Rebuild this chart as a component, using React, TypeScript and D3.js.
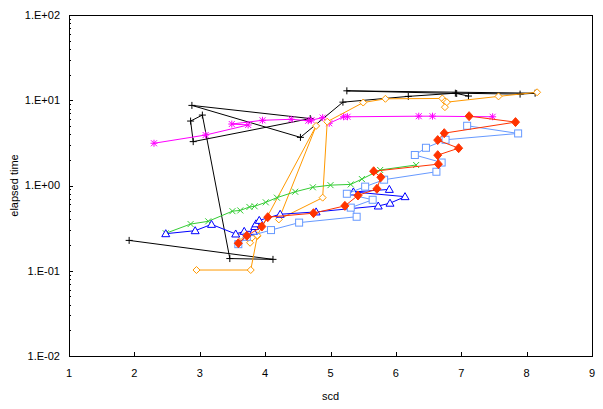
import React from "react";
import * as d3 from "d3";

const W = 603, H = 409;
const M = { left: 69, right: 592, top: 15, bottom: 356 };

const xTicks = [1, 2, 3, 4, 5, 6, 7, 8, 9];
const yTicks = [0.01, 0.1, 1, 10, 100];
const yTickLabels = ["1.E-02", "1.E-01", "1.E+00", "1.E+01", "1.E+02"];

const blackSeries: [number, number][] = [
  [1.92, 0.227], [4.12, 0.136], [3.46, 0.139], [3.04, 6.7], [2.86, 5.7], [2.9, 3.27],
  [4.69, 6.1], [2.88, 8.7], [4.54, 3.67], [5.19, 9.5], [6.19, 11.1], [6.91, 12.1],
  [7.9, 11.8], [8.13, 12.1], [5.25, 12.9], [6.93, 12.0], [7.11, 11.2],
];
const magentaSeries: [number, number][] = [
  [2.3, 3.13], [3.09, 3.91], [3.74, 5.13], [3.49, 5.26], [3.96, 5.82], [4.4, 5.98],
  [4.66, 5.75], [4.71, 5.85], [4.88, 6.25], [4.98, 5.37], [5.2, 6.4], [5.26, 6.4],
  [6.35, 6.5], [6.56, 6.5], [7.48, 6.4],
];
const orangeSeries: [number, number][] = [
  [2.95, 0.102], [3.78, 0.102], [3.88, 0.255], [3.77, 0.213], [3.63, 0.255], [3.88, 0.26],
  [4.78, 5.0], [4.21, 0.4], [4.88, 0.72], [4.95, 5.6], [5.5, 9.4], [5.84, 10.4],
  [6.71, 10.5], [6.75, 9.7], [6.75, 8.3], [6.78, 9.5], [7.57, 11.1], [8.16, 12.4],
];
const redSeries: [number, number][] = [
  [3.59, 0.21], [3.72, 0.257], [3.95, 0.33], [4.04, 0.425], [4.74, 0.473], [5.22, 0.577],
  [5.42, 0.764], [5.71, 0.914], [5.77, 1.25], [5.66, 1.47], [6.65, 1.78], [6.64, 2.27],
  [6.96, 2.74], [6.64, 3.41], [6.74, 4.11], [7.83, 5.54], [7.12, 6.51],
];
const lightBlueSeries: [number, number][] = [
  [3.59, 0.205], [3.72, 0.25], [4.09, 0.3], [4.52, 0.367], [5.4, 0.43], [5.31, 0.55],
  [5.645, 0.68], [5.25, 0.8], [5.53, 0.97], [5.82, 1.17], [6.62, 1.45], [6.7, 1.86],
  [6.29, 2.28], [6.46, 2.77], [6.76, 3.44], [7.87, 4.08], [7.09, 5.02],
];
const blueSeries: [number, number][] = [
  [2.48, 0.272], [2.93, 0.295], [3.18, 0.35], [3.55, 0.27], [3.68, 0.29], [3.82, 0.29],
  [3.84, 0.33], [3.86, 0.355], [3.91, 0.39], [4.23, 0.46], [4.78, 0.49], [5.73, 0.575],
  [5.91, 0.62], [6.14, 0.74], [5.35, 0.84], [5.9, 0.9],
];
const greenSeries: [number, number][] = [
  [2.48, 0.275], [2.86, 0.353], [3.13, 0.38], [3.5, 0.5], [3.62, 0.51], [3.76, 0.56],
  [3.84, 0.57], [4.01, 0.635], [4.18, 0.72], [4.46, 0.845], [4.73, 0.953], [5.0, 1.01],
  [5.31, 1.03], [5.48, 1.19], [5.76, 1.52], [6.31, 1.74],
];

type Marker = "plus" | "star" | "diamond" | "fdiamond" | "square" | "triangle" | "x";

const series: { data: [number, number][]; color: string; marker: Marker }[] = [
  { data: blackSeries, color: "#000000", marker: "plus" },
  { data: magentaSeries, color: "#FF00FF", marker: "star" },
  { data: orangeSeries, color: "#FF9900", marker: "diamond" },
  { data: greenSeries, color: "#33CC33", marker: "x" },
  { data: blueSeries, color: "#0000FF", marker: "triangle" },
  { data: lightBlueSeries, color: "#6699FF", marker: "square" },
  { data: redSeries, color: "#FF3300", marker: "fdiamond" },
];

function MarkerShape({ type, color }: { type: Marker; color: string }) {
  switch (type) {
    case "plus":
      return <path d="M-3.5,0H3.5M0,-3.5V3.5" stroke={color} strokeWidth={1} fill="none" />;
    case "star":
      return <path d="M-3.5,0H3.5M0,-3.5V3.5M-3,-3L3,3M-3,3L3,-3" stroke={color} strokeWidth={1} fill="none" />;
    case "x":
      return <path d="M-3,-3L3,3M-3,3L3,-3" stroke={color} strokeWidth={1} fill="none" />;
    case "diamond":
      return <path d="M0,-3.5L3.5,0L0,3.5L-3.5,0Z" stroke={color} strokeWidth={1} fill="white" />;
    case "fdiamond":
      return <path d="M0,-4.5L4,0L0,4.5L-4,0Z" stroke={color} strokeWidth={1} fill={color} />;
    case "square":
      return <rect x={-3.5} y={-3.5} width={7} height={7} stroke={color} strokeWidth={1} fill="white" />;
    case "triangle":
      return <path d="M0,-4L4,3L-4,3Z" stroke={color} strokeWidth={1} fill="white" />;
  }
  return null;
}

export default function App() {
  const x = d3.scaleLinear().domain([1, 9]).range([M.left, M.right]);
  const y = d3.scaleLog().domain([0.01, 100]).range([M.bottom, M.top]);
  const line = d3.line<[number, number]>().x((d) => x(d[0])).y((d) => y(d[1]));

  const minor: number[] = [];
  for (let e = -2; e < 2; e++) for (let k = 2; k <= 9; k++) minor.push(k * Math.pow(10, e));

  const font = "'Liberation Sans', Arial, sans-serif";

  return (
    <svg width={W} height={H} style={{ position: "absolute", left: 0, top: 0, background: "white" }}>
      <rect x={0} y={0} width={W} height={H} fill="white" />
      <rect x={M.left} y={M.top} width={M.right - M.left} height={M.bottom - M.top} fill="none" stroke="black" strokeWidth={1} shapeRendering="crispEdges" />
      {minor.map((v, i) => (
        <line key={"m" + i} x1={M.left} x2={M.left + 2} y1={Math.round(y(v)) + 0.5} y2={Math.round(y(v)) + 0.5} stroke="black" shapeRendering="crispEdges" />
      ))}
      {yTicks.map((v, i) => (
        <g key={"y" + i}>
          <line x1={M.left} x2={M.left + 4} y1={Math.round(y(v)) + 0.5} y2={Math.round(y(v)) + 0.5} stroke="black" shapeRendering="crispEdges" />
          <text x={M.left - 9} y={y(v)} dy="0.35em" textAnchor="end" fontFamily={font} fontSize={11}>{yTickLabels[i]}</text>
        </g>
      ))}
      {xTicks.map((v, i) => (
        <g key={"x" + i}>
          <line x1={Math.round(x(v)) + 0.5} x2={Math.round(x(v)) + 0.5} y1={M.bottom} y2={M.bottom - 4} stroke="black" shapeRendering="crispEdges" />
          <text x={x(v)} y={377} textAnchor="middle" fontFamily={font} fontSize={11}>{v}</text>
        </g>
      ))}
      <text x={(M.left + M.right) / 2} y={400} textAnchor="middle" fontFamily={font} fontSize={11}>scd</text>
      <text transform={`translate(18,${(M.top + M.bottom) / 2}) rotate(-90)`} textAnchor="middle" fontFamily={font} fontSize={11}>elapsed time</text>
      {series.map((s, si) => (
        <g key={"s" + si}>
          <path d={line(s.data) || ""} fill="none" stroke={s.color} strokeWidth={1} />
          {s.data.map((d, i) => (
            <g key={i} transform={`translate(${x(d[0])},${y(d[1])})`}>
              <MarkerShape type={s.marker} color={s.color} />
            </g>
          ))}
        </g>
      ))}
    </svg>
  );
}
